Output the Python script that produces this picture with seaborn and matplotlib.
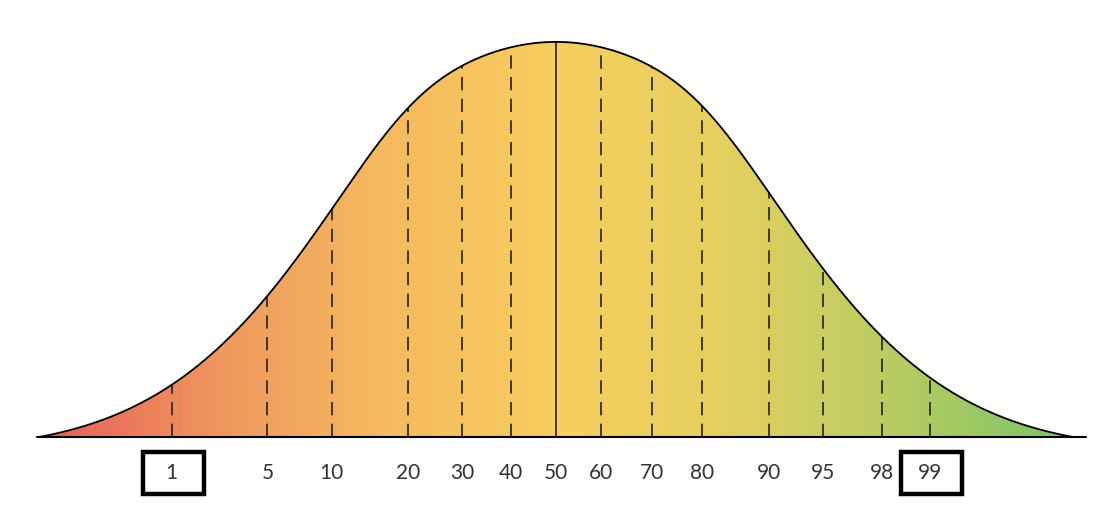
import matplotlib

matplotlib.use("Agg")

import matplotlib.pyplot as plt
import seaborn as sns
import numpy as np
import pandas as pd
from matplotlib.colors import LinearSegmentedColormap
from matplotlib.patches import Rectangle

# -----------------------------
# Data (positions in units of the curve)
# -----------------------------
percentiles = [1, 5, 10, 20, 30, 40, 50, 60, 70, 80, 90, 95, 98, 99]
positions = [-1.97, -1.48, -1.15, -0.76, -0.48, -0.23, 0.0,
             0.23, 0.49, 0.75, 1.09, 1.37, 1.67, 1.92]
boxed = [1, 99]

gradient_stops = [0.0, 0.17, 0.32, 0.5, 0.65, 0.82, 1.0]
gradient_colors = ["#E85E58", "#EF975E", "#F5B85E", "#F7CE5E",
                   "#E6D060", "#B9CC62", "#78C566"]

# -----------------------------
# Plot Style
# -----------------------------
sns.set_theme(style="white")
plt.rcParams["font.family"] = ["Lato", "DejaVu Sans"]

x_left, x_right = -2.65, 2.69
# bell shape: gaussian core that steepens a little towards the tails
r0, r_inf, knee = 0.247, 0.483, 1.0


def bell(p):
    p = np.abs(p)
    return np.exp(-p ** 2 * (r0 + (r_inf - r0) * p ** 4 / (p ** 4 + knee ** 4)))


def height(p):
    edge = bell(x_left)
    return np.clip((bell(p) - edge) / (1 - edge), 0, None)


xs = np.linspace(x_left, x_right, 600)
curve = pd.DataFrame({"x": xs, "y": height(xs)})

fig = plt.figure(figsize=(10.98, 5.18), dpi=100)
ax = fig.add_axes([0, 0, 1, 1])
ax.set_xlim(-2.851, 2.779)
ax.set_ylim(-0.205, 1.106)
ax.axis("off")

# gradient fill clipped to the curve
cmap = LinearSegmentedColormap.from_list(
    "bell", list(zip(gradient_stops, gradient_colors)))
poly = ax.fill_between(curve["x"], 0, curve["y"], color="none", lw=0)
img = ax.imshow(np.linspace(0, 1, 256).reshape(1, -1), cmap=cmap,
                extent=[x_left, x_right, 0, 1.0], aspect="auto",
                interpolation="bicubic", zorder=1)
img.set_clip_path(poly.get_paths()[0], transform=ax.transData)

sns.lineplot(data=curve, x="x", y="y", color="black", lw=1.3, ax=ax,
             zorder=3)
ax.plot([-2.66, 2.72], [0, 0], color="black", lw=1.5, zorder=3)

for pct, pos in zip(percentiles, positions):
    h = height(pos)
    if pct == 50:
        ax.plot([pos, pos], [0, h], color="#222222", lw=1.2, zorder=2)
    else:
        ax.plot([pos, pos], [0, h], color="#222222", lw=1.2,
                linestyle=(0, (8, 5)), zorder=2)
    ax.text(pos, -0.09, str(pct), ha="center", va="center",
            fontsize=15, color="#333333")
    if pct in boxed:
        ax.add_patch(Rectangle((pos - 0.15, -0.145), 0.313, 0.106,
                               fill=False, lw=3.2, edgecolor="black"))

plt.savefig("out.png", dpi=100)
plt.close()
